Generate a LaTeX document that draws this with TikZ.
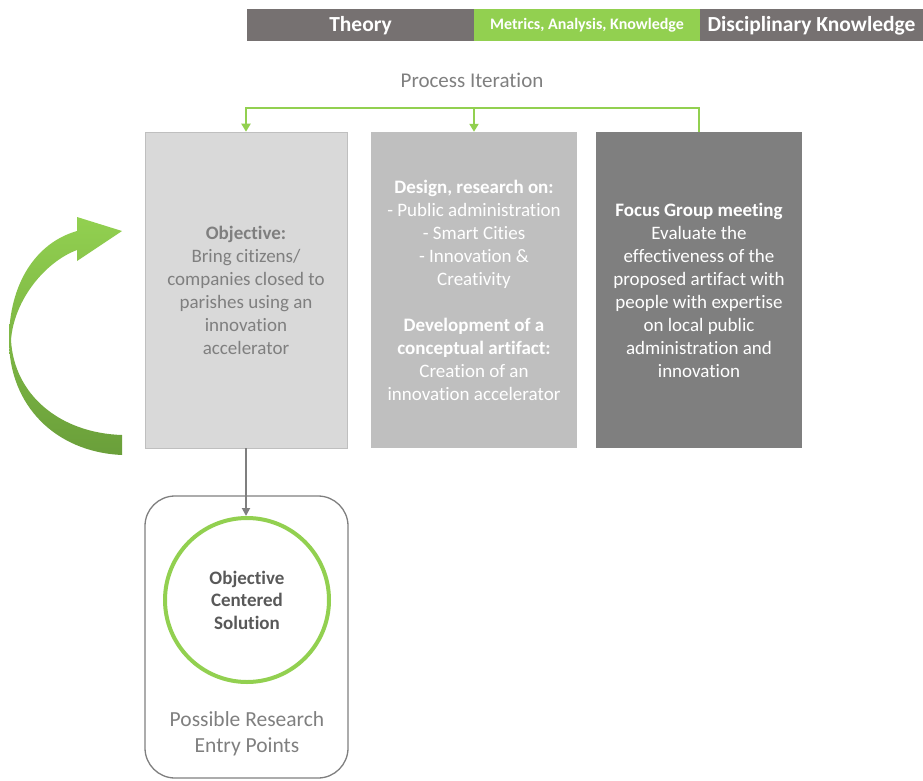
\documentclass[tikz,border=0pt]{standalone}
\usepackage{fontspec}
\setmainfont{Carlito}[Ligatures={NoCommon}]
\usetikzlibrary{arrows.meta}
\definecolor{bargray}{HTML}{767171}
\definecolor{lgreen}{HTML}{92D050}
\definecolor{dgreen}{HTML}{6A9F3A}
\definecolor{boxA}{HTML}{D9D9D9}
\definecolor{boxB}{HTML}{BFBFBF}
\definecolor{boxC}{HTML}{7F7F7F}
\definecolor{txtgray}{HTML}{7F7F7F}
\definecolor{darktxt}{HTML}{595959}
\begin{document}
\begin{tikzpicture}[x=1pt,y=-1pt,
  barseg/.style={minimum height=32pt, inner sep=0pt, text=white, text height=13.5pt, text depth=0pt, font=\bfseries\fontsize{21.5}{21.5}\selectfont},
  stagebox/.style={minimum height=316pt, inner sep=0pt, align=center, font=\fontsize{19}{23}\selectfont},
  gline/.style={draw=lgreen, line width=2.5pt},
  garrow/.style={gline, -{Triangle[width=9pt,length=8pt]}},
  grayarrow/.style={draw=boxC, line width=1.8pt, -{Triangle[width=8pt,length=8pt]}}
]
\useasboundingbox (0,0) rectangle (923,781);

% top bar
\node[barseg, fill=bargray, minimum width=227pt] (theory) at (360.5,25) {Theory};
\node[barseg, fill=lgreen, minimum width=226pt, text height=10pt, font=\bfseries\fontsize{16}{16}\selectfont] (metrics) at (587,25) {Metrics, Analysis, Knowledge};
\node[barseg, fill=bargray, minimum width=223pt] (disc) at (811.5,25) {Disciplinary Knowledge};

% process iteration
\node[text=txtgray, font=\fontsize{21}{21}\selectfont] (pi) at (472,80) {Process Iteration};

% stage boxes
\node[stagebox, fill=boxA, draw=boxB, line width=0.6pt, minimum width=202pt, text=txtgray] (box1) at (246,290)
 {\textbf{Objective:}\\Bring citizens/\\companies closed to\\parishes using an\\innovation\\accelerator};
\node[stagebox, fill=boxB, minimum width=206pt, text=white] (box2) at (474,290)
 {\textbf{Design, research on:}\\- Public administration\\- Smart Cities\\- Innovation \&\\Creativity\\[23pt]\textbf{Development of a}\\\textbf{conceptual artifact:}\\Creation of an\\innovation accelerator};
\node[stagebox, fill=boxC, minimum width=206pt, text=white] (box3) at (699,290)
 {\textbf{Focus Group meeting}\\Evaluate the\\effectiveness of the\\proposed artifact with\\people with expertise\\on local public\\administration and\\innovation};

% iteration connectors
\coordinate (top) at (474,108);
\draw[garrow] (box3.north) |- (top) -| (box1.north);
\draw[garrow] (top) -- (box2.north);

% lower part
\node[draw=boxC, line width=1.3pt, rounded corners=30pt, minimum width=203pt, minimum height=282pt] (entry) at (246.5,637) {};
\node[circle, draw=lgreen, line width=4pt, minimum size=164pt, align=center, text=darktxt,
      font=\bfseries\fontsize{19}{22.5}\selectfont] (ocs) at (247,600) {Objective\\Centered\\Solution};
\node[text=txtgray, align=center, font=\fontsize{21.5}{26}\selectfont] (pre) at (247,734) {Possible Research\\Entry Points};
\draw[grayarrow] (box1.south) -- (box1.south |- ocs.north);

% curved iteration arrow
\shade[top color=lgreen, middle color=lgreen!80!dgreen, bottom color=dgreen]
  (122,455) .. controls (55,452) and (9,405) .. (9,340)
  .. controls (9,285) and (35,243) .. (77,231)
  -- (77,217) -- (122,231) -- (77,261) -- (77,250)
  .. controls (45,262) and (14,300) .. (11,340)
  .. controls (14,395) and (60,433) .. (122,435) -- cycle;
\end{tikzpicture}
\end{document}
